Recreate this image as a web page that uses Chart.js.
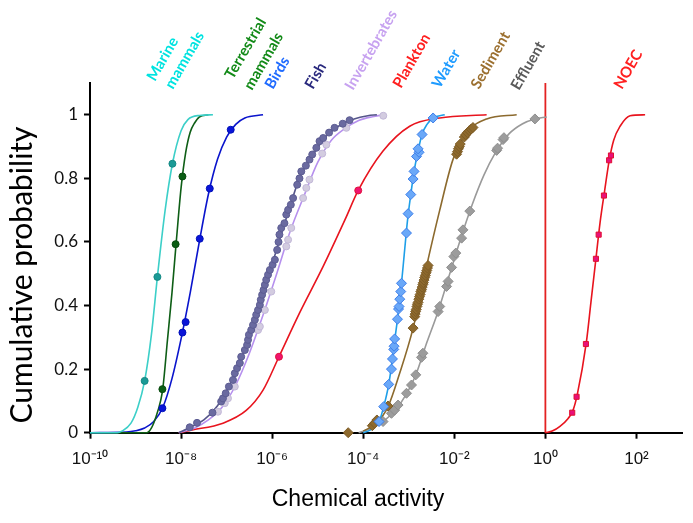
<!DOCTYPE html>
<html><head><meta charset="utf-8">
<script src="https://cdn.jsdelivr.net/npm/chart.js@4/dist/chart.umd.min.js"></script>
<style>html,body{margin:0;padding:0;background:#fff}#wrap{width:693px;height:523px}</style>
</head><body><div id="wrap"><canvas id="c" width="693" height="523"></canvas></div>
<script>
// ---- DATA (x values are log10 of chemical activity, y = cumulative probability) ----
const xTickValues = [1e-10, 1e-8, 1e-6, 1e-4, 1e-2, 1, 1e2];
const xTickLabels = ['10\u207B\u00B9\u2070', '10\u207B\u2078', '10\u207B\u2076', '10\u207B\u2074', '10\u207B\u00B2', '10\u2070', '10\u00B2'];
const yTickValues = [0, 0.2, 0.4, 0.6, 0.8, 1];
const yTickLabels = ['0', '0.2', '0.4', '0.6', '0.8', '1'];

const marineCurve = [[-10,0],[-9.4,0],[-9.3,0.005],[-9.1,0.03],[-8.95,0.08],[-8.8,0.163],[-8.65,0.31],[-8.52,0.49],[-8.35,0.7],[-8.19,0.846],[-8.0,0.95],[-7.85,0.985],[-7.6,0.998],[-7.3,1.0]];
const marinePoints = [[-8.80,0.163],[-8.52,0.49],[-8.19,0.846]];

const terrestrialCurve = [[-10,0],[-8.75,0],[-8.65,0.015],[-8.55,0.05],[-8.45,0.1],[-8.4,0.14],[-8.3,0.29],[-8.2,0.44],[-8.1,0.61],[-8.0,0.77],[-7.9,0.88],[-7.8,0.945],[-7.7,0.975],[-7.6,0.993],[-7.4,1.0]];
const terrestrialPoints = [[-8.41,0.137],[-8.12,0.593],[-7.97,0.806]];

const birdsCurve = [[-10,0],[-9.2,0.002],[-9.0,0.006],[-8.8,0.015],[-8.6,0.035],[-8.4,0.08],[-8.2,0.17],[-8.0,0.295],[-7.8,0.44],[-7.6,0.60],[-7.4,0.75],[-7.2,0.86],[-7.0,0.93],[-6.8,0.97],[-6.6,0.99],[-6.2,1.0]];
const birdsPoints = [[-8.41,0.077],[-7.97,0.315],[-7.90,0.348],[-7.59,0.61],[-7.37,0.768],[-6.91,0.953]];

const fishCurve = [[-8.05,0],[-7.8,0.017],[-7.5,0.04],[-7.2,0.085],[-6.9,0.16],[-6.6,0.26],[-6.3,0.39],[-6.0,0.53],[-5.7,0.67],[-5.4,0.80],[-5.1,0.875],[-4.8,0.935],[-4.5,0.968],[-4.2,0.987],[-3.9,0.997],[-3.7,1.0]];
const fishPoints = [[-7.81,0.017],[-7.65,0.031],[-7.31,0.063],[-7.12,0.098],[-7.08,0.108],[-7.02,0.124],[-6.95,0.145],[-6.86,0.166],[-6.82,0.187],[-6.77,0.203],[-6.71,0.219],[-6.68,0.239],[-6.60,0.26],[-6.55,0.276],[-6.53,0.292],[-6.51,0.308],[-6.46,0.323],[-6.42,0.339],[-6.38,0.355],[-6.35,0.371],[-6.31,0.386],[-6.27,0.402],[-6.25,0.418],[-6.22,0.434],[-6.19,0.449],[-6.16,0.465],[-6.13,0.481],[-6.09,0.497],[-6.05,0.512],[-5.99,0.528],[-5.94,0.544],[-5.89,0.575],[-5.86,0.60],[-5.84,0.623],[-5.80,0.644],[-5.73,0.659],[-5.69,0.686],[-5.65,0.701],[-5.59,0.717],[-5.54,0.738],[-5.45,0.78],[-5.40,0.80],[-5.36,0.822],[-5.26,0.84],[-5.18,0.859],[-5.12,0.875],[-5.03,0.896],[-4.96,0.917],[-4.88,0.927],[-4.75,0.944],[-4.63,0.959],[-4.45,0.972],[-4.30,0.983]];

const invertCurve = [[-8.05,0],[-7.7,0.015],[-7.4,0.04],[-7.1,0.08],[-6.8,0.15],[-6.5,0.25],[-6.2,0.37],[-5.9,0.5],[-5.6,0.635],[-5.3,0.745],[-5.0,0.85],[-4.7,0.92],[-4.4,0.957],[-4.1,0.982],[-3.8,0.994],[-3.55,1.0]];
const invertPoints = [[-7.19,0.066],[-7.04,0.093],[-6.97,0.108],[-6.82,0.145],[-6.31,0.323],[-6.27,0.334],[-6.16,0.386],[-6.02,0.444],[-5.69,0.586],[-5.65,0.607],[-5.58,0.644],[-5.32,0.738],[-5.25,0.77],[-5.18,0.796],[-4.90,0.878],[-4.81,0.906],[-4.37,0.959],[-3.56,0.997]];

const planktonCurve = [[-8.05,0],[-7.78,0.008],[-7.08,0.03],[-6.57,0.07],[-6.2,0.134],[-5.85,0.239],[-5.4,0.376],[-4.88,0.523],[-4.4,0.67],[-4.11,0.762],[-3.57,0.885],[-2.98,0.964],[-2.32,0.99],[-1.29,1.0]];
const planktonPoints = [[-5.85,0.239],[-4.11,0.762]];

const waterCurve = [[-4.0,0],[-3.85,0.008],[-3.653,0.035],[-3.55,0.082],[-3.44,0.152],[-3.36,0.232],[-3.30,0.30],[-3.24,0.365],[-3.17,0.455],[-3.10,0.56],[-3.03,0.665],[-2.956,0.749],[-2.88,0.825],[-2.79,0.89],[-2.71,0.938],[-2.6,0.97],[-2.466,0.99],[-2.21,1.0]];
const waterPoints = [[-3.653,0.035],[-3.55,0.082],[-3.44,0.152],[-3.38,0.20],[-3.358,0.232],[-3.33,0.262],[-3.323,0.272],[-3.31,0.295],[-3.248,0.357],[-3.225,0.389],[-3.213,0.397],[-3.198,0.42],[-3.176,0.444],[-3.16,0.47],[-3.05,0.628],[-3.015,0.689],[-2.956,0.749],[-2.905,0.798],[-2.884,0.822],[-2.83,0.869],[-2.774,0.882],[-2.796,0.893],[-2.708,0.938],[-2.466,0.99]];

const sedimentCurve = [[-4.0,0.005],[-3.71,0.03],[-3.455,0.082],[-3.2,0.187],[-2.905,0.329],[-2.61,0.523],[-2.32,0.70],[-2.03,0.859],[-1.73,0.943],[-1.29,0.987],[-0.63,1.0]];
const sedimentPoints = [[-4.33,0],[-3.80,0.022],[-3.75,0.03],[-3.70,0.04],[-3.455,0.084],[-2.905,0.329],[-2.87,0.365],[-2.86,0.373],[-2.85,0.381],[-2.835,0.388],[-2.82,0.397],[-2.81,0.404],[-2.795,0.41],[-2.78,0.42],[-2.765,0.428],[-2.75,0.435],[-2.735,0.444],[-2.72,0.45],[-2.705,0.458],[-2.69,0.466],[-2.68,0.472],[-2.665,0.48],[-2.65,0.488],[-2.635,0.495],[-2.62,0.503],[-2.605,0.51],[-2.59,0.518],[-2.576,0.526],[-1.95,0.876],[-1.93,0.884],[-1.91,0.893],[-1.89,0.90],[-1.87,0.908],[-1.78,0.93],[-1.75,0.937],[-1.71,0.944],[-1.67,0.95],[-1.63,0.955],[-1.59,0.96]];

const effluentCurve = [[-4.1,0],[-3.8,0.015],[-3.57,0.035],[-3.3,0.07],[-3.05,0.122],[-2.85,0.18],[-2.6,0.285],[-2.36,0.38],[-2.1,0.5],[-1.85,0.615],[-1.6,0.72],[-1.35,0.81],[-1.1,0.88],[-0.8,0.94],[-0.5,0.972],[-0.23,0.987],[0.03,0.993]];
const effluentPoints = [[-3.565,0.035],[-3.38,0.061],[-3.31,0.071],[-3.235,0.087],[-3.05,0.124],[-2.94,0.150],[-2.846,0.182],[-2.72,0.237],[-2.69,0.25],[-2.356,0.381],[-2.32,0.397],[-2.17,0.46],[-2.136,0.476],[-2.06,0.52],[-2.01,0.554],[-1.967,0.565],[-1.84,0.612],[-1.81,0.638],[-1.66,0.697],[-1.07,0.888],[-1.05,0.895],[-0.93,0.922],[-0.91,0.928],[-0.23,0.987]];

const noecCurve = [[0,0],[0.15,0.005],[0.32,0.02],[0.5,0.045],[0.6,0.068],[0.7,0.12],[0.9,0.285],[1.0,0.41],[1.1,0.535],[1.2,0.66],[1.3,0.76],[1.4,0.855],[1.5,0.92],[1.64,0.964],[1.86,0.997],[2.19,1.0]];
const noecPoints = [[0.589,0.063],[0.685,0.113],[0.89,0.279],[1.11,0.547],[1.17,0.623],[1.286,0.746],[1.40,0.857],[1.44,0.872]];

const thresholdLine = [[0,0],[0,1.1]];

const seriesLabels = [['Marine','mammals'],['Terrestrial','mammals'],['Birds'],['Fish'],['Invertebrates'],['Plankton'],['Water'],['Sediment'],['Effluent'],['NOEC']];

// ---- helpers ----
const toXY = arr => arr.map(p => ({x: Math.pow(10, p[0]), y: p[1]}));
function curve(data, color, w) {
  return {data: toXY(data), showLine: true, borderColor: color, borderWidth: w || 1.6, pointRadius: 0,
          cubicInterpolationMode: 'monotone', fill: false, clip: false, order: 2};
}
function pts(data, fill, stroke, style, r) {
  return {data: toXY(data), showLine: false, pointStyle: style || 'circle', pointRadius: r || 3.5,
          backgroundColor: fill, borderColor: stroke || fill, borderWidth: 1, clip: false, order: 1};
}

const datasets = [
  pts(marinePoints, '#1A9A96', '#138883'),
  pts(terrestrialPoints, '#0B5E14', '#084A0F'),
  pts(birdsPoints, '#0A14D8', '#0010B8'),
  pts(fishPoints, '#6A6AA0', '#5C5C92'),
  pts(invertPoints, '#D3CCE0', '#C2B8D8'),
  pts(planktonPoints, '#F0146E', '#E0103A'),
  pts(waterPoints, '#6AA8F8', '#3C7EEA', 'rectRot', 5),
  pts(sedimentPoints, '#8E6A2E', '#7D5C26', 'rectRot', 5),
  pts(effluentPoints, '#9C9C9C', '#8E8E8E', 'rectRot', 5),
  pts(noecPoints, '#E8107A', '#E01030', 'rect', 3.6),
  curve(marineCurve, '#3CCFC8'),
  curve(terrestrialCurve, '#0E5E16'),
  curve(birdsCurve, '#0A14CC'),
  curve(fishCurve, '#55558A'),
  curve(invertCurve, '#B690EE'),
  curve(planktonCurve, '#E8141E'),
  curve(waterCurve, '#1E9FE8'),
  curve(sedimentCurve, '#8C6A2E'),
  curve(effluentCurve, '#9A9A9A'),
  curve(noecCurve, '#E8141E'),
  Object.assign(curve(thresholdLine, '#E32222', 1.8), {cubicInterpolationMode: 'default', order: 3})
];

const labelColors = ['#00E3E0','#138A18','#1F6BFF','#2A2A7E','#C7A2F0','#FF2020','#1E9BFF','#9C7030','#5A5A5A','#FF2020'];
const labelAnchors = [[[155,82],[173,90]],[[233,80],[252,91]],[[273,90]],[[313,90]],[[353,91]],[[401,89]],[[440,89]],[[479,90]],[[519,91]],[[622,90]]];

const textPlugin = {
  id: 'texts',
  afterDraw(chart) {
    const ctx = chart.ctx;
    ctx.save();
    // axis titles
    ctx.fillStyle = '#000';
    ctx.font = '23px "Liberation Sans", Arial, sans-serif';
    ctx.textAlign = 'center'; ctx.textBaseline = 'alphabetic';
    ctx.fillText('Chemical activity', 358, 506);
    ctx.save();
    ctx.translate(32, 275); ctx.rotate(-Math.PI / 2);
    ctx.font = '30px Lato, sans-serif';
    ctx.fillText('Cumulative probability', 0, 0);
    ctx.restore();
    // rotated series labels
    ctx.font = 'bold 15px Lato, sans-serif';
    ctx.textAlign = 'left'; ctx.textBaseline = 'alphabetic';
    seriesLabels.forEach((lines, i) => {
      ctx.fillStyle = labelColors[i];
      lines.forEach((t, j) => {
        const a = labelAnchors[i][j];
        ctx.save(); ctx.translate(a[0], a[1]); ctx.rotate(-60 * Math.PI / 180);
        ctx.fillText(t, 0, 0); ctx.restore();
      });
    });
    ctx.restore();
  }
};

const axisCommon = {
  grid: {display: true, drawOnChartArea: false, drawTicks: true, tickLength: 6, tickWidth: 2, tickColor: '#000'},
  border: {display: true, color: '#000', width: 2}
};

new Chart(document.getElementById('c'), {
  type: 'scatter',
  data: {datasets},
  options: {
    responsive: false, animation: false, devicePixelRatio: 1,
    layout: {padding: {top: 83, right: 11, left: 0, bottom: 0}},
    plugins: {legend: {display: false}, tooltip: {enabled: false}, title: {display: false}},
    scales: {
      x: Object.assign({}, axisCommon, {
        type: 'logarithmic', min: 1e-10, max: 1e3,
        afterBuildTicks: s => { s.ticks = xTickValues.map(v => ({value: v})); },
        afterFit: s => { s.height = 90.3; },
        ticks: {autoSkip: false, maxRotation: 0, padding: 10, color: '#111',
                font: {family: '"Liberation Sans", Arial, sans-serif', size: 17},
                callback: (v, i) => xTickLabels[i]}
      }),
      y: Object.assign({}, axisCommon, {
        type: 'linear', min: 0, max: 1.1,
        afterBuildTicks: s => { s.ticks = yTickValues.map(v => ({value: v})); },
        afterFit: s => { s.width = 90; },
        ticks: {padding: 6, color: '#111', font: {family: 'Lato, sans-serif', size: 17},
                callback: (v, i) => yTickLabels[i]}
      })
    }
  },
  plugins: [textPlugin]
});
</script></body></html>
